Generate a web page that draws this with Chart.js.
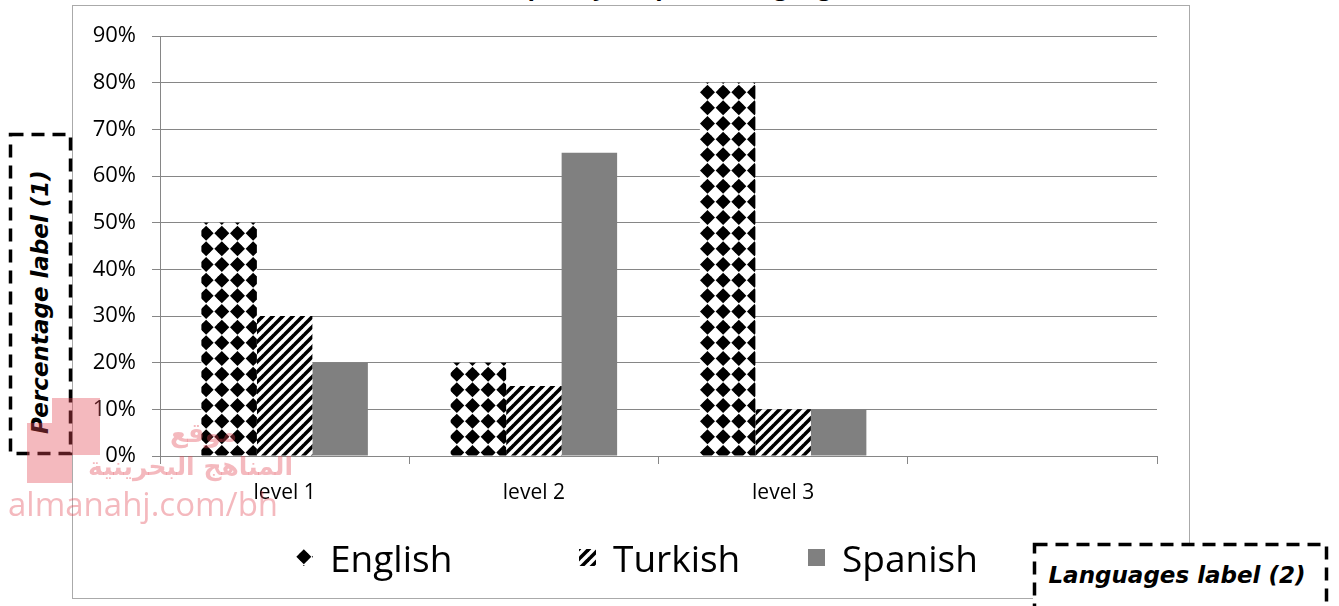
<!DOCTYPE html>
<html>
<head>
<meta charset="utf-8">
<script src="https://cdn.jsdelivr.net/npm/chart.js@4.4.1/dist/chart.umd.min.js"></script>
<style>
  body { margin: 0; width: 1339px; height: 606px; background: #fff; overflow: hidden; position: relative; font-family: "Open Sans", sans-serif; }
  #frame { position: absolute; left: 72px; top: 5px; width: 1116px; height: 592px; border: 1px solid #aaaaaa; }
  #chartMain { position: absolute; left: 0; top: 0; }
  #title { position: absolute; left: 0; top: -26px; width: 1339px; text-align: center; font: bold 24px/24px "Open Sans", sans-serif; color: #000; }
  .leg { position: absolute; top: 535px; height: 44px; display: flex; align-items: center; font-size: 37px; color: #000; }
  .leg canvas { margin-right: 17px; }
  .axislbl { position: absolute; background: #fff; }
  .axislbl span { font-family: "DejaVu Sans", sans-serif; font-style: oblique; font-weight: bold; font-size: 23px; color: #000; white-space: nowrap; position: absolute; }
  svg.dash { position: absolute; left: 0; top: 0; }
  .wm { position: absolute; color: rgba(226, 70, 85, 0.38); white-space: nowrap; }
</style>
</head>
<body>
<div id="title">Frequency of spoken languages</div>
<div id="frame"><canvas id="chartMain" width="1116" height="592"></canvas></div>
<div id="legend"></div>

<div class="axislbl" style="left:9px; top:133px; width:62px; height:321px;">
  <span id="ylbl" style="left:31px; top:169px; transform: translate(-50%,-50%) rotate(-90deg);">Percentage label (1)</span>
</div>
<div class="axislbl" style="left:1033px; top:543px; width:294px; height:70px;">
  <span style="left:144px; top:32px; transform: translate(-50%,-50%);">Languages label (2)</span>
</div>
<svg class="dash" width="1339" height="606">
  <rect x="10.5" y="134.5" width="60" height="319" fill="none" stroke="#000" stroke-width="3.5" stroke-dasharray="13 8"/>
  <rect x="1034.5" y="544.5" width="292" height="80" fill="none" stroke="#000" stroke-width="3.5" stroke-dasharray="13 8"/>
</svg>

<!-- watermark -->
<div class="wm" style="left:52px; top:398px; width:48px; height:57px; background: rgba(226,70,85,0.38);"></div>
<div class="wm" style="left:27px; top:423px; width:25px; height:60px; background: rgba(226,70,85,0.38);"></div>
<div class="wm" style="left:52px; top:455px; width:20px; height:28px; background: rgba(226,70,85,0.38);"></div>
<div class="wm" style="left:170px; top:418px; font: bold 26px 'DejaVu Sans', sans-serif;">موقع</div>
<div class="wm" style="left:88px; top:452px; font: bold 25px 'DejaVu Sans', sans-serif;">المناهج البحرينية</div>
<div class="wm" style="left:8px; top:481px; font: 33px 'Open Sans', sans-serif;">almanahj.com/bh</div>

<script>
// ===== DATA =====
const categories = ['level 1', 'level 2', 'level 3', ''];
const seriesNames = ['English', 'Turkish', 'Spanish'];
const englishVals = [50, 20, 80, null];
const turkishVals = [30, 15, 10, null];
const spanishVals = [20, 65, 10, null];
const yMax = 90;
const yStep = 10;

// ===== PATTERNS =====
function makeDiamondTile() {
  const c = document.createElement('canvas');
  c.width = 47; c.height = 47;
  const g = c.getContext('2d');
  g.fillStyle = '#fff';
  g.fillRect(0, 0, 47, 47);
  g.fillStyle = '#000';
  for (let i = 0; i < 3; i++) {
    for (let j = 0; j < 3; j++) {
      const cx = 7.8 + i * 15.67, cy = 7.8 + j * 15.67;
      g.beginPath();
      g.moveTo(cx - 7.5, cy);
      g.lineTo(cx, cy - 7.5);
      g.lineTo(cx + 7.5, cy);
      g.lineTo(cx, cy + 7.5);
      g.closePath();
      g.fill();
      g.beginPath();
      g.arc(cx, cy, 5, 0, Math.PI * 2);
      g.fill();
    }
  }
  return c;
}

function makeStripeTile() {
  const c = document.createElement('canvas');
  c.width = 10; c.height = 10;
  const g = c.getContext('2d');
  g.fillStyle = '#fff';
  g.fillRect(0, 0, 10, 10);
  g.strokeStyle = '#000';
  g.lineWidth = 3.6;
  for (let k = 0; k <= 20; k += 10) {
    g.beginPath();
    g.moveTo(k - 11, 11);
    g.lineTo(k + 1, -1);
    g.stroke();
  }
  return c;
}

const ctxMain = document.getElementById('chartMain').getContext('2d');
const diamondTile = makeDiamondTile();
const stripeTile = makeStripeTile();
const englishFill = ctxMain.createPattern(diamondTile, 'repeat');
const turkishFill = ctxMain.createPattern(stripeTile, 'repeat');
const spanishFill = '#808080';

const gridGray = '#868686';

// ===== CHART =====
const mainChart = new Chart(ctxMain, {
  type: 'bar',
  data: {
    labels: categories,
    datasets: [
      { label: seriesNames[0], data: englishVals, backgroundColor: englishFill, borderWidth: 0 },
      { label: seriesNames[1], data: turkishVals, backgroundColor: turkishFill, borderWidth: 0 },
      { label: seriesNames[2], data: spanishVals, backgroundColor: spanishFill, borderWidth: 0 },
    ],
  },
  options: {
    responsive: false,
    animation: false,
    categoryPercentage: 0.668,
    barPercentage: 1,
    layout: { padding: { left: 0, right: 32, top: 30, bottom: 68 } },
    plugins: {
      legend: { display: false },
      tooltip: { enabled: false },
    },
    scales: {
      x: {
        offset: true,
        grid: { drawOnChartArea: false, drawTicks: true, tickLength: 8, color: gridGray, offset: true },
        border: { color: gridGray },
        ticks: { font: { family: 'Open Sans', size: 21 }, color: '#000', padding: 16 },
        afterFit: (scale) => { scale.height = 74; },
      },
      y: {
        min: 0,
        max: yMax,
        ticks: {
          stepSize: yStep,
          font: { family: 'Open Sans', size: 22 },
          color: '#000',
          padding: 16,
          callback: (v) => v + '%',
        },
        grid: { color: gridGray, tickLength: 8 },
        border: { color: gridGray },
        afterFit: (scale) => { scale.width = 87; },
      },
    },
  },
});

// ===== LEGEND (HTML) =====
const legendPos = [296, 579, 808];
const legendFills = [diamondTile, stripeTile, null];
const legendEl = document.getElementById('legend');
seriesNames.forEach((name, i) => {
  const item = document.createElement('div');
  item.className = 'leg';
  item.style.left = legendPos[i] + 'px';
  const box = document.createElement('canvas');
  box.width = 17; box.height = 17;
  const bg = box.getContext('2d');
  if (legendFills[i]) {
    bg.fillStyle = bg.createPattern(legendFills[i], 'repeat');
  } else {
    bg.fillStyle = spanishFill;
  }
  bg.fillRect(0, 0, 17, 17);
  item.appendChild(box);
  const txt = document.createElement('span');
  txt.textContent = name;
  item.appendChild(txt);
  legendEl.appendChild(item);
});
</script>
</body>
</html>
